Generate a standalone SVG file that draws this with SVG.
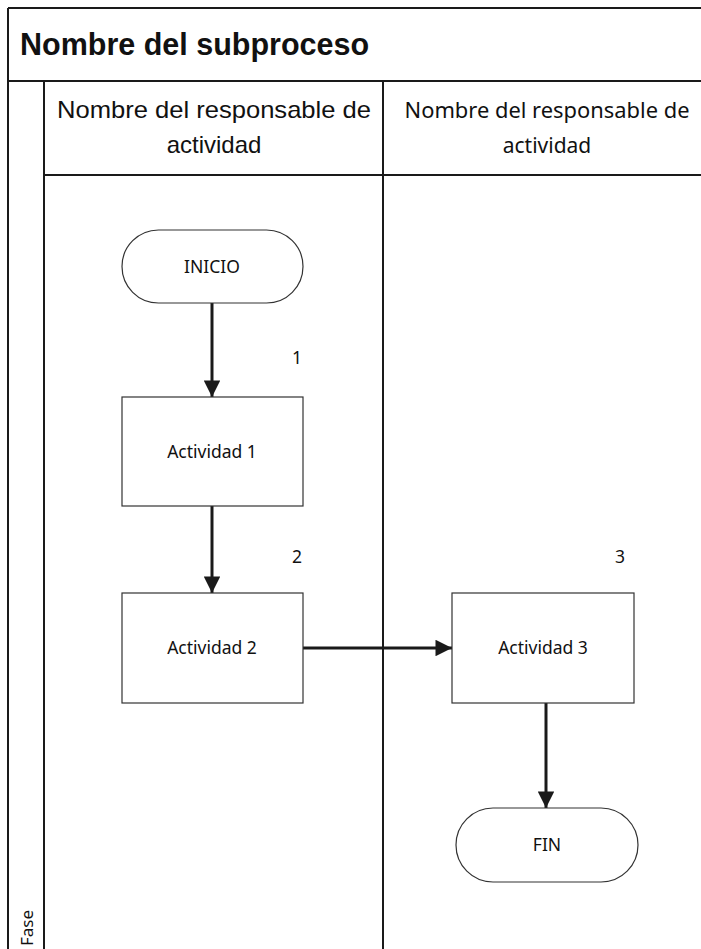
<svg xmlns="http://www.w3.org/2000/svg" width="701" height="949" viewBox="0 0 701 949">
<style>
.frame{stroke:#1a1a1a;stroke-width:2;fill:none}
.node{fill:#fff;stroke:#333;stroke-width:1.2}
.lbl{font-family:"Noto Sans","Open Sans",sans-serif;font-size:17.5px;fill:#111;text-anchor:middle}
.hdr{font-family:"Liberation Sans",Arial,sans-serif;font-size:24px;fill:#111;text-anchor:middle}
.hdr2{font-family:"Noto Sans","Open Sans",sans-serif;font-size:21px;fill:#111;text-anchor:middle}
.conn{stroke:#1a1a1a;stroke-width:3;fill:none;marker-end:url(#arr)}
</style>
<defs>
<marker id="arr" viewBox="0 0 10 10" refX="10" refY="5" markerWidth="6" markerHeight="5.5" orient="auto" markerUnits="strokeWidth">
<path d="M0,0 L10,5 L0,10 z" fill="#1a1a1a"/>
</marker>
</defs>
<rect x="0" y="0" width="701" height="949" fill="#fff"/>
<g id="frame">
<line class="frame" x1="8" y1="8" x2="701" y2="8"/>
<line class="frame" x1="8" y1="8" x2="8" y2="949"/>
<line class="frame" x1="8" y1="81" x2="701" y2="81"/>
<line class="frame" x1="44" y1="81" x2="44" y2="949"/>
<line class="frame" x1="383" y1="81" x2="383" y2="949"/>
<line class="frame" x1="44" y1="175" x2="701" y2="175"/>
<text x="20" y="55" font-family="'Liberation Sans',Arial,sans-serif" font-size="30.5" font-weight="bold" fill="#111">Nombre del subproceso</text>
<text class="hdr" x="214" y="118" textLength="314" lengthAdjust="spacingAndGlyphs">Nombre del responsable de</text>
<text class="hdr" x="214" y="153">actividad</text>
<text class="hdr2" x="547" y="118" textLength="285" lengthAdjust="spacingAndGlyphs">Nombre del responsable de</text>
<text class="hdr2" x="547" y="153">actividad</text>
<text transform="translate(33,946) rotate(-90)" font-family="'Noto Sans','Open Sans',sans-serif" font-size="17" fill="#111">Fase</text>
</g>
<g id="connectors">
<line class="conn" x1="212" y1="303" x2="212" y2="397"/>
<line class="conn" x1="212" y1="506" x2="212" y2="593"/>
<line class="conn" x1="303" y1="648" x2="452" y2="648"/>
<line class="conn" x1="546" y1="703" x2="546" y2="808"/>
</g>
<g id="inicio">
<rect class="node" x="122" y="230" width="181" height="73" rx="36.5"/>
<text class="lbl" x="212" y="273">INICIO</text>
</g>
<g id="actividad1">
<rect class="node" x="122" y="397" width="181" height="109"/>
<text class="lbl" x="212" y="458">Actividad 1</text>
<text class="lbl" x="297" y="364">1</text>
</g>
<g id="actividad2">
<rect class="node" x="122" y="593" width="181" height="110"/>
<text class="lbl" x="212" y="654">Actividad 2</text>
<text class="lbl" x="297" y="563">2</text>
</g>
<g id="actividad3">
<rect class="node" x="452" y="593" width="182" height="110"/>
<text class="lbl" x="543" y="654">Actividad 3</text>
<text class="lbl" x="620" y="563">3</text>
</g>
<g id="fin">
<rect class="node" x="456" y="808" width="182" height="74" rx="37"/>
<text class="lbl" x="547" y="851">FIN</text>
</g>
</svg>
